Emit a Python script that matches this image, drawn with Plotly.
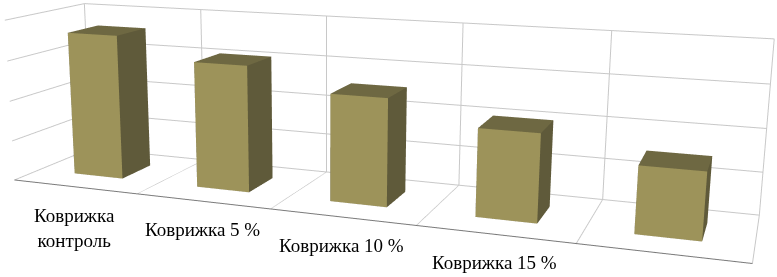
import plotly.graph_objects as go

# ---- data ----
categories = ["Коврижка<br>контроль", "Коврижка 5 %", "Коврижка 10 %", "Коврижка 15 %", "Коврижка 20 %"]
values = [90, 77, 64, 51, 38]
value_ticks = [0, 25, 50, 75, 100]

# ---- style / layout ----
FRONT = "#9D935A"
SIDE = "#5F5A3A"
TOP = "#6E6842"
GRID = "#C8C8C8"
BAR_W = 0.4            # bar width in category units
DEPTH = 1.015          # floor depth in category units
BAR_Y = (0.313, 0.715)  # bar front / back position in depth
WALL = 1.148           # wall height in category units
K = 0.2                # scene scale

xs, ys, zs, I, J, Kk, fc = [], [], [], [], [], [], []
for n, v in enumerate(values):
    x0, x1 = n + 0.5 - BAR_W / 2, n + 0.5 + BAR_W / 2
    y0, y1 = BAR_Y
    corners = [(x0, y0, 0), (x1, y0, 0), (x1, y1, 0), (x0, y1, 0),
               (x0, y0, v), (x1, y0, v), (x1, y1, v), (x0, y1, v)]
    b = len(xs)
    for c in corners:
        xs.append(c[0]); ys.append(c[1]); zs.append(c[2])
    faces = [((0, 1, 5), FRONT), ((0, 5, 4), FRONT),
             ((1, 2, 6), SIDE), ((1, 6, 5), SIDE),
             ((4, 5, 6), TOP), ((4, 6, 7), TOP),
             ((3, 7, 6), SIDE), ((3, 6, 2), SIDE),
             ((0, 4, 7), SIDE), ((0, 7, 3), SIDE),
             ((0, 3, 2), SIDE), ((0, 2, 1), SIDE)]
    for (a, bb, c), col in faces:
        I.append(b + a); J.append(b + bb); Kk.append(b + c); fc.append(col)

fig = go.Figure(go.Mesh3d(
    x=xs, y=ys, z=zs, i=I, j=J, k=Kk, facecolor=fc, flatshading=True,
    lighting=dict(ambient=1, diffuse=0, specular=0, fresnel=0, roughness=1),
    hoverinfo="skip", showscale=False))

axis_common = dict(showticklabels=False, zeroline=False, showspikes=False,
                   showbackground=False, title=dict(text=""), ticks="")

# the fifth label lies below the cropped bottom edge of the source picture
shown_labels = categories[:4]

FIG_W, FIG_H = 899, 1005
OFF_L, OFF_T = -122, -367

fig.update_layout(
    width=FIG_W, height=FIG_H, margin=dict(l=0, r=0, t=0, b=0),
    paper_bgcolor="white", showlegend=False,
    scene=dict(
        domain=dict(x=[0, 1], y=[0, 1]),
        aspectmode="manual",
        aspectratio=dict(x=len(values) * K, y=DEPTH * K, z=WALL * K),
        xaxis=dict(range=[0, len(values)], tickvals=list(range(len(values) + 1)),
                   showgrid=True, gridcolor=GRID, gridwidth=2,
                   showline=True, linecolor="#7A7A7A", linewidth=2, **axis_common),
        yaxis=dict(range=[0, DEPTH], showgrid=False, showline=False, **axis_common),
        zaxis=dict(range=[0, value_ticks[-1]], tickvals=value_ticks,
                   showgrid=True, gridcolor=GRID, gridwidth=2, showline=False, **axis_common),
        camera=dict(eye=dict(x=0.5238, y=-1.5015, z=0.3419),
                    center=dict(x=0.4533, y=-1.3199, z=0.2964),
                    up=dict(x=0, y=0, z=1),
                    projection=dict(type="perspective")),
        annotations=[dict(x=n + 0.5, y=0, z=0, text=t, showarrow=False,
                          xanchor="center", yanchor="top", yshift=-16,
                          font=dict(family="Liberation Serif", size=19, color="black"))
                     for n, t in enumerate(shown_labels)],
    ),
)

ps = ("document.body.style.margin='0';"
      "document.documentElement.style.overflow='hidden';"
      "document.body.style.overflow='hidden';"
      "var d=document.getElementById('{plot_id}');"
      "d.style.position='absolute';d.style.left='%dpx';d.style.top='%dpx';" % (OFF_L, OFF_T))
fig.write_html("out.html", config={"displayModeBar": False}, post_script=ps)
